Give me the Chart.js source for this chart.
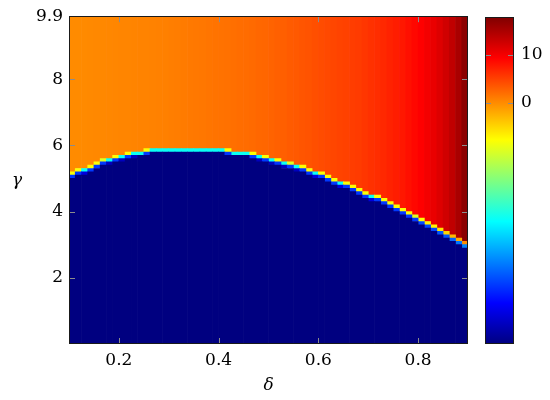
<!DOCTYPE html>
<html>
<head>
<meta charset="utf-8">
<script src="https://cdn.jsdelivr.net/npm/chart.js@4.4.1/dist/chart.umd.min.js"></script>
<style>
    body { margin: 0; background: #fff; }
    #wrap { position: relative; width: 550px; height: 400px; }
    #main { position: absolute; left: 0; top: 0; }
    #bar { position: absolute; left: 470px; top: 0; }
</style>
</head>
<body>
<div id="wrap">
    <canvas id="main" width="550" height="400"></canvas>
    <canvas id="bar" width="80" height="400"></canvas>
</div>
<script>
// column centres (delta), cell height 0.1 in gamma
const delta = [
    0.10625, 0.11875, 0.13125, 0.14375, 0.15625, 0.16875, 0.18125, 0.19375,
    0.20625, 0.21875, 0.23125, 0.24375, 0.25625, 0.26875, 0.28125, 0.29375,
    0.30625, 0.31875, 0.33125, 0.34375, 0.35625, 0.36875, 0.38125, 0.39375,
    0.40625, 0.41875, 0.43125, 0.44375, 0.45625, 0.46875, 0.48125, 0.49375,
    0.50625, 0.51875, 0.53125, 0.54375, 0.55625, 0.56875, 0.58125, 0.59375,
    0.60625, 0.61875, 0.63125, 0.64375, 0.65625, 0.66875, 0.68125, 0.69375,
    0.70625, 0.71875, 0.73125, 0.74375, 0.75625, 0.76875, 0.78125, 0.79375,
    0.80625, 0.81875, 0.83125, 0.84375, 0.85625, 0.86875, 0.88125, 0.89375
];
// gamma where the low (navy) region ends in each column
const edgeGamma = [
    5.0, 5.1, 5.1, 5.2, 5.3, 5.4, 5.4, 5.5,
    5.5, 5.6, 5.6, 5.6, 5.7, 5.7, 5.7, 5.7,
    5.7, 5.7, 5.7, 5.7, 5.7, 5.7, 5.7, 5.7,
    5.7, 5.7, 5.6, 5.6, 5.6, 5.6, 5.5, 5.5,
    5.4, 5.4, 5.3, 5.3, 5.2, 5.2, 5.1, 5.0,
    5.0, 4.9, 4.8, 4.7, 4.7, 4.6, 4.5, 4.4,
    4.3, 4.3, 4.2, 4.1, 4.0, 3.9, 3.8, 3.7,
    3.6, 3.5, 3.4, 3.3, 3.2, 3.1, 3.0, 2.9
];
// value of the first transition cell (just above the navy region)
const edgeLo = [
    -38, -38, -44, -38, -38, -38, -46, -38,
    -46, -38, -46, -50, -38, -50, -50, -50,
    -50, -50, -50, -50, -50, -50, -50, -50,
    -50, -38, -50, -50, -50, -38, -46, -38,
    -46, -38, -46, -38, -46, -38, -38, -44,
    -38, -38, -38, -44, -38, -38, -38, -38,
    -44, -38, -38, -38, -38, -38, -38, -38,
    -37, -37, -37, -36, -36, -35, -34, -33
];
// value of the second transition cell
const edgeHi = [
    -8, -8, -24, -8, -8, -10, -24, -8,
    -24, -8, -24, -24, -8, -24, -24, -24,
    -24, -24, -24, -24, -24, -24, -24, -24,
    -24, -8, -24, -24, -24, -8, -24, -8,
    -24, -8, -24, -10, -24, -8, -8, -24,
    -8, -8, -8, -24, -8, -8, -8, -8,
    -24, -8, -8, -8, -8, -8, -8, -10,
    -8, -7, -7, -6, -5, -3, -2, 0
];
// value of the upper region in each column
const topValue = [
    0.0, 0.05, 0.1, 0.15, 0.2, 0.25, 0.3, 0.35,
    0.4, 0.45, 0.5, 0.55, 0.6, 0.65, 0.7, 0.8,
    0.9, 1.0, 1.1, 1.2, 1.3, 1.4, 1.5, 1.6,
    1.7, 1.8, 1.9, 2.0, 2.1, 2.2, 2.4, 2.5,
    2.7, 2.9, 3.0, 3.2, 3.4, 3.6, 3.8, 4.0,
    4.2, 4.4, 4.6, 4.8, 5.0, 5.2, 5.4, 5.7,
    6.0, 6.3, 6.6, 7.0, 7.4, 7.8, 8.3, 8.8,
    9.4, 10.0, 10.7, 11.5, 12.4, 13.5, 15.0, 17.0
];
const xTicks = [0.2, 0.4, 0.6, 0.8];
const yTicks = [2, 4, 6, 8, 9.9];
const barTicks = [0, 10];
const vMin = -50.2, vMax = 17.8;
const gammaMax = 9.9;

const tickFont = { family: 'DejaVu Serif', size: 17 };

function clamp(a) { return Math.max(0, Math.min(1, a)); }
function jetT(t) {
    const r = clamp(Math.min(4 * t - 1.5, -4 * t + 4.5));
    const g = clamp(Math.min(4 * t - 0.5, -4 * t + 3.5));
    const b = clamp(Math.min(4 * t + 0.5, -4 * t + 2.5));
    return `rgb(${Math.round(r * 255)},${Math.round(g * 255)},${Math.round(b * 255)})`;
}
function jet(v) {
    return jetT(clamp((v - vMin) / (vMax - vMin)));
}

// grey tick marks inside the frame + black frame
const frameTicks = {
    id: 'frameTicks',
    afterDatasetsDraw(chart) {
        const { ctx, chartArea: a, scales } = chart;
        ctx.save();
        ctx.strokeStyle = '#8c8c8c';
        ctx.lineWidth = 1;
        const len = 6;
        Object.values(scales).forEach(s => {
            if (!s.options.display) return;
            s.ticks.forEach(t => {
                const p = Math.round(s.getPixelForValue(t.value)) + 0.5;
                ctx.beginPath();
                if (s.isHorizontal()) {
                    ctx.moveTo(p, a.bottom); ctx.lineTo(p, a.bottom - len);
                    ctx.moveTo(p, a.top); ctx.lineTo(p, a.top + len);
                } else {
                    ctx.moveTo(a.left, p); ctx.lineTo(a.left + len, p);
                    ctx.moveTo(a.right, p); ctx.lineTo(a.right - len, p);
                }
                ctx.stroke();
            });
        });
        ctx.strokeStyle = '#1a1a1a';
        ctx.strokeRect(Math.round(a.left) + 0.5, Math.round(a.top) + 0.5,
            Math.round(a.width) - 1, Math.round(a.height) - 1);
        ctx.restore();
    }
};

const gammaLabel = {
    id: 'gammaLabel',
    afterDraw(chart) {
        const { ctx, chartArea: a } = chart;
        ctx.save();
        ctx.fillStyle = '#000';
        ctx.font = 'italic 17px "DejaVu Serif"';
        ctx.textAlign = 'center';
        ctx.textBaseline = 'middle';
        ctx.fillText('γ', a.left - 52, (a.top + a.bottom) / 2);
        ctx.restore();
    }
};

const cells = (lo, hi, colors) => ({
    data: delta.map((d, i) => ({ x: d, y: [lo(i), hi(i)] })),
    backgroundColor: colors,
    borderWidth: 0,
    grouped: false,
    barPercentage: 1,
    categoryPercentage: 1
});

new Chart(document.getElementById('main'), {
    type: 'bar',
    data: {
        datasets: [
            cells(i => 0, i => edgeGamma[i], jet(vMin)),
            cells(i => edgeGamma[i], i => edgeGamma[i] + 0.1, edgeLo.map(jet)),
            cells(i => edgeGamma[i] + 0.1, i => edgeGamma[i] + 0.2, edgeHi.map(jet)),
            cells(i => edgeGamma[i] + 0.2, i => gammaMax, topValue.map(jet))
        ]
    },
    options: {
        responsive: false,
        animation: false,
        events: [],
        layout: { padding: { left: 0, right: 82, top: 15, bottom: 0 } },
        plugins: { legend: { display: false }, tooltip: { enabled: false } },
        scales: {
            x: {
                type: 'linear',
                offset: false,
                min: 0.1,
                max: 0.9,
                afterBuildTicks: s => { s.ticks = xTicks.map(v => ({ value: v })); },
                afterFit: s => { s.height = 56; },
                ticks: { font: tickFont, color: '#000', padding: 6, maxRotation: 0, callback: v => String(v) },
                grid: { display: false, drawTicks: false },
                border: { display: false },
                title: {
                    display: true, text: 'δ', color: '#000',
                    font: { family: 'DejaVu Serif', size: 17, style: 'italic' },
                    padding: { top: 0, bottom: 4 }
                }
            },
            y: {
                type: 'linear',
                min: 0,
                max: gammaMax,
                afterBuildTicks: s => { s.ticks = yTicks.map(v => ({ value: v })); },
                afterFit: s => { s.width = 69; },
                ticks: { font: tickFont, color: '#000', padding: 6, callback: v => String(v) },
                grid: { display: false, drawTicks: false },
                border: { display: false }
            }
        }
    },
    plugins: [frameTicks, gammaLabel]
});

// colour bar
const jetStops = [0, 0.125, 0.375, 0.625, 0.875, 1];
new Chart(document.getElementById('bar'), {
    type: 'bar',
    data: {
        labels: [''],
        datasets: [{
            data: [[vMin, vMax]],
            borderWidth: 0,
            barPercentage: 1,
            categoryPercentage: 1,
            backgroundColor: c => {
                const a = c.chart.chartArea;
                if (!a) return jet(0);
                const g = c.chart.ctx.createLinearGradient(0, a.bottom, 0, a.top);
                jetStops.forEach(t => g.addColorStop(t, jetT(t)));
                return g;
            }
        }]
    },
    options: {
        responsive: false,
        animation: false,
        events: [],
        layout: { padding: { left: 15, right: 0, top: 15, bottom: 56 } },
        plugins: { legend: { display: false }, tooltip: { enabled: false } },
        scales: {
            x: { display: false },
            y: {
                position: 'right',
                min: vMin,
                max: vMax,
                afterBuildTicks: s => { s.ticks = barTicks.map(v => ({ value: v })); },
                afterFit: s => { s.width = 36; },
                ticks: { font: tickFont, color: '#000', padding: 7, callback: v => String(v) },
                grid: { display: false, drawTicks: false },
                border: { display: false }
            }
        }
    },
    plugins: [frameTicks]
});
</script>
</body>
</html>
